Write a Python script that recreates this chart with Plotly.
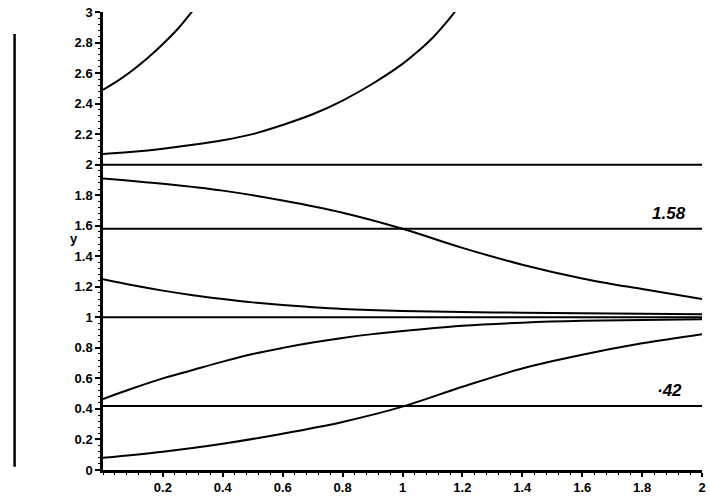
import plotly.graph_objects as go

# ---- data ----
xA = [0, 0.05, 0.1, 0.15, 0.2, 0.25, 0.3]
yA = [2.49, 2.55, 2.62, 2.70, 2.79, 2.89, 3.01]

xB = [0, 0.1, 0.2, 0.3, 0.4, 0.5, 0.6, 0.7, 0.8, 0.9, 1.0, 1.05, 1.1, 1.15, 1.19]
yB = [2.07, 2.085, 2.105, 2.13, 2.16, 2.20, 2.26, 2.33, 2.42, 2.53, 2.66, 2.74, 2.83, 2.94, 3.04]

xC = [0, 0.2, 0.4, 0.6, 0.8, 1.0, 1.2, 1.4, 1.6, 1.8, 2.0]
yC = [1.91, 1.875, 1.83, 1.765, 1.685, 1.58, 1.455, 1.345, 1.255, 1.185, 1.12]

xD = [0, 0.1, 0.2, 0.3, 0.4, 0.5, 0.6, 0.7, 0.8, 1.0, 1.2, 1.4, 1.6, 1.8, 2.0]
yD = [1.25, 1.21, 1.175, 1.145, 1.12, 1.098, 1.08, 1.066, 1.055, 1.042, 1.035, 1.03, 1.026, 1.023, 1.02]

xE = [0, 0.1, 0.2, 0.3, 0.4, 0.5, 0.6, 0.7, 0.8, 0.9, 1.0, 1.2, 1.4, 1.6, 1.8, 2.0]
yE = [0.465, 0.535, 0.6, 0.655, 0.71, 0.76, 0.80, 0.835, 0.865, 0.89, 0.91, 0.945, 0.965, 0.977, 0.983, 0.987]

xF = [0, 0.2, 0.4, 0.6, 0.8, 1.0, 1.2, 1.4, 1.6, 1.8, 2.0]
yF = [0.08, 0.12, 0.172, 0.238, 0.315, 0.415, 0.545, 0.665, 0.755, 0.83, 0.89]

levels = [2.0, 1.58, 1.0, 0.42]
level_labels = {1.58: "1.58", 0.42: "·42"}

xticks = [0.2, 0.4, 0.6, 0.8, 1, 1.2, 1.4, 1.6, 1.8, 2]
xticktext = ["0.2", "0.4", "0.6", "0.8", "1", "1.2", "1.4", "1.6", "1.8", "2"]
yticks = [0, 0.2, 0.4, 0.6, 0.8, 1, 1.2, 1.4, 1.6, 1.8, 2, 2.2, 2.4, 2.6, 2.8, 3]
yticktext = ["0", "0.2", "0.4", "0.6", "0.8", "1", "1.2", "1.4", "1.6", "1.8", "2", "2.2", "2.4", "2.6", "2.8", "3"]

line_style = dict(color="black", width=2)

fig = go.Figure()
for xs, ys in [(xA, yA), (xB, yB), (xC, yC), (xD, yD), (xE, yE), (xF, yF)]:
    fig.add_trace(go.Scatter(x=xs, y=ys, mode="lines", line=dict(shape="spline", smoothing=1.0, **line_style),
                             showlegend=False, hoverinfo="skip", cliponaxis=True))
for lv in levels:
    fig.add_trace(go.Scatter(x=[0, 2], y=[lv, lv], mode="lines", line=line_style,
                             showlegend=False, hoverinfo="skip"))

font_lbl = dict(family="Liberation Sans, Arial, sans-serif", size=13, color="black", weight="bold")

for lv, txt in level_labels.items():
    fig.add_annotation(x=1.89, y=lv, yshift=15, text=txt, showarrow=False,
                       font=dict(family="Liberation Sans, Arial, sans-serif", size=17, color="black",
                                 weight="bold", style="italic"))

fig.add_annotation(xref="paper", yref="paper", x=-0.058, y=0.505, text="y", showarrow=False, font=font_lbl)

# left-hand vertical rule seen in the scan
fig.add_shape(type="line", xref="paper", yref="paper", x0=-0.1476, x1=-0.1476, y0=0.007, y1=0.952,
              line=dict(color="black", width=2.5))

fig.update_xaxes(range=[0, 2], tickvals=xticks, ticktext=xticktext, showgrid=False, zeroline=False,
                 showline=True, linecolor="black", linewidth=2.5, ticks="outside", ticklen=4,
                 tickcolor="black", tickwidth=1.5, tickfont=font_lbl,
                 minor=dict(ticks="outside", ticklen=2, dtick=0.04, tickcolor="black", tickwidth=1))
fig.update_yaxes(range=[0, 3], tickvals=yticks, ticktext=yticktext, showgrid=False, zeroline=False,
                 showline=True, linecolor="black", linewidth=2.5, ticks="outside", ticklen=5,
                 tickcolor="black", tickwidth=1.5, tickfont=font_lbl,
                 minor=dict(ticks="outside", ticklen=2, dtick=0.04, tickcolor="black", tickwidth=1))

fig.update_layout(width=710, height=499, margin=dict(l=103, r=4, t=12, b=28),
                  paper_bgcolor="white", plot_bgcolor="white")

fig.write_html("out.html")
